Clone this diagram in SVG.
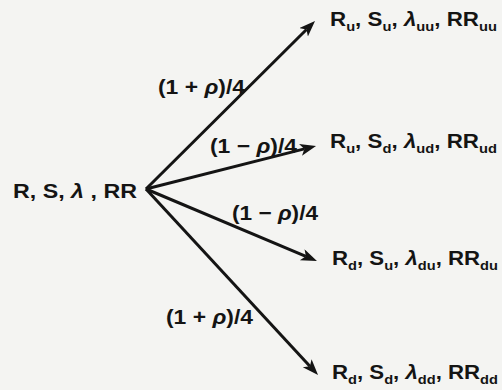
<svg xmlns="http://www.w3.org/2000/svg" width="502" height="390" viewBox="0 0 502 390">
<style>
.t{font-family:"Liberation Sans",Arial,sans-serif;font-weight:bold;fill:#141414;}
.m{font-size:21px;}
.n{font-size:20.5px;}
.p{font-size:21px;}
.s{font-size:13.5px;}
.e{stroke:#141414;stroke-width:3;fill:none;}
</style>
<defs>
<marker id="ah" markerUnits="userSpaceOnUse" markerWidth="18" markerHeight="14" refX="4" refY="6" orient="auto">
<path d="M0,0 L16,6 L0,12 L4,6 Z" fill="#141414"/>
</marker>
</defs>
<rect width="502" height="390" fill="#f4f4f2"/>
<g id="connectors">
<line class="e" x1="146" y1="189" x2="306.5" y2="29.5" marker-end="url(#ah)"/>
<line class="e" x1="146" y1="189" x2="304.4" y2="148.9" marker-end="url(#ah)"/>
<line class="e" x1="146" y1="189" x2="305.9" y2="256.3" marker-end="url(#ah)"/>
<line class="e" x1="146" y1="189" x2="309.9" y2="366.2" marker-end="url(#ah)"/>
<text class="t p" x="158" y="94" textLength="87" lengthAdjust="spacingAndGlyphs">(1 + <tspan font-style="italic">ρ</tspan>)/4</text>
<text class="t p" x="210" y="153" textLength="87" lengthAdjust="spacingAndGlyphs">(1 − <tspan font-style="italic">ρ</tspan>)/4</text>
<text class="t p" x="232" y="220" textLength="86" lengthAdjust="spacingAndGlyphs">(1 − <tspan font-style="italic">ρ</tspan>)/4</text>
<text class="t p" x="166" y="324" textLength="87" lengthAdjust="spacingAndGlyphs">(1 + <tspan font-style="italic">ρ</tspan>)/4</text>
</g>
<g id="root">
<text class="t m" x="13" y="198" textLength="124" lengthAdjust="spacingAndGlyphs">R, S, <tspan font-style="italic">λ</tspan> , RR</text>
</g>
<g id="uu">
<text class="t n" x="330" y="26" textLength="167" lengthAdjust="spacingAndGlyphs">R<tspan class="s" dy="5">u</tspan><tspan dy="-5">, S</tspan><tspan class="s" dy="5">u</tspan><tspan dy="-5">, </tspan><tspan font-style="italic">λ</tspan><tspan class="s" dy="5">uu</tspan><tspan dy="-5">, RR</tspan><tspan class="s" dy="5">uu</tspan></text>
</g>
<g id="ud">
<text class="t n" x="330" y="148" textLength="167" lengthAdjust="spacingAndGlyphs">R<tspan class="s" dy="5">u</tspan><tspan dy="-5">, S</tspan><tspan class="s" dy="5">d</tspan><tspan dy="-5">, </tspan><tspan font-style="italic">λ</tspan><tspan class="s" dy="5">ud</tspan><tspan dy="-5">, RR</tspan><tspan class="s" dy="5">ud</tspan></text>
</g>
<g id="du">
<text class="t n" x="332" y="265" textLength="166" lengthAdjust="spacingAndGlyphs">R<tspan class="s" dy="5">d</tspan><tspan dy="-5">, S</tspan><tspan class="s" dy="5">u</tspan><tspan dy="-5">, </tspan><tspan font-style="italic">λ</tspan><tspan class="s" dy="5">du</tspan><tspan dy="-5">, RR</tspan><tspan class="s" dy="5">du</tspan></text>
</g>
<g id="dd">
<text class="t n" x="332" y="379" textLength="166" lengthAdjust="spacingAndGlyphs">R<tspan class="s" dy="5">d</tspan><tspan dy="-5">, S</tspan><tspan class="s" dy="5">d</tspan><tspan dy="-5">, </tspan><tspan font-style="italic">λ</tspan><tspan class="s" dy="5">dd</tspan><tspan dy="-5">, RR</tspan><tspan class="s" dy="5">dd</tspan></text>
</g>
</svg>
